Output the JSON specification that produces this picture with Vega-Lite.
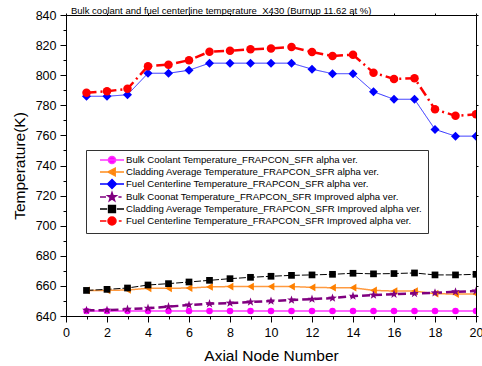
{
  "$schema": "https://vega.github.io/schema/vega-lite/v6.json",
  "width": 410,
  "height": 301,
  "autosize": {"type": "none"},
  "padding": {"left": 66, "top": 15, "right": 6, "bottom": 50},
  "background": "white",
  "config": {
    "view": {"stroke": "#000", "strokeWidth": 1},
    "font": "Liberation Sans",
    "axis": {"labelFont": "Liberation Sans", "titleFont": "Liberation Sans", "labelColor": "#000", "titleColor": "#000", "domainColor": "#000", "tickColor": "#000", "grid": false, "titleFontWeight": "normal", "labelFontSize": 12.5, "titleFontSize": 15.5},
    "legend": {"orient": "none", "legendX": 20, "legendY": 135, "title": null, "direction": "vertical", "strokeColor": "#333", "fillColor": "#fff", "padding": 5, "labelFontSize": 9.6, "labelFont": "Liberation Sans", "labelColor": "#000", "labelLimit": 0, "symbolSize": 64, "symbolStrokeWidth": 1.5, "symbolOffset": 16, "labelOffset": 9, "rowPadding": -3.6}
  },
  "title": {"text": "Bulk coolant and fuel centerline temperature_X430 (Burnup 11.62 at %)", "anchor": "start", "frame": "group", "orient": "top", "offset": -14, "dx": 5, "fontSize": 9.5, "fontWeight": "normal", "font": "Liberation Sans", "color": "#000", "baseline": "alphabetic"},
  "data": {"values": [
    {"n":1,"v":643.3,"s":"Bulk Coolant Temperature_FRAPCON_SFR alpha ver."},
    {"n":2,"v":643.3,"s":"Bulk Coolant Temperature_FRAPCON_SFR alpha ver."},
    {"n":3,"v":643.3,"s":"Bulk Coolant Temperature_FRAPCON_SFR alpha ver."},
    {"n":4,"v":643.3,"s":"Bulk Coolant Temperature_FRAPCON_SFR alpha ver."},
    {"n":5,"v":643.3,"s":"Bulk Coolant Temperature_FRAPCON_SFR alpha ver."},
    {"n":6,"v":643.3,"s":"Bulk Coolant Temperature_FRAPCON_SFR alpha ver."},
    {"n":7,"v":643.3,"s":"Bulk Coolant Temperature_FRAPCON_SFR alpha ver."},
    {"n":8,"v":643.3,"s":"Bulk Coolant Temperature_FRAPCON_SFR alpha ver."},
    {"n":9,"v":643.3,"s":"Bulk Coolant Temperature_FRAPCON_SFR alpha ver."},
    {"n":10,"v":643.3,"s":"Bulk Coolant Temperature_FRAPCON_SFR alpha ver."},
    {"n":11,"v":643.3,"s":"Bulk Coolant Temperature_FRAPCON_SFR alpha ver."},
    {"n":12,"v":643.3,"s":"Bulk Coolant Temperature_FRAPCON_SFR alpha ver."},
    {"n":13,"v":643.3,"s":"Bulk Coolant Temperature_FRAPCON_SFR alpha ver."},
    {"n":14,"v":643.3,"s":"Bulk Coolant Temperature_FRAPCON_SFR alpha ver."},
    {"n":15,"v":643.3,"s":"Bulk Coolant Temperature_FRAPCON_SFR alpha ver."},
    {"n":16,"v":643.3,"s":"Bulk Coolant Temperature_FRAPCON_SFR alpha ver."},
    {"n":17,"v":643.3,"s":"Bulk Coolant Temperature_FRAPCON_SFR alpha ver."},
    {"n":18,"v":643.3,"s":"Bulk Coolant Temperature_FRAPCON_SFR alpha ver."},
    {"n":19,"v":643.3,"s":"Bulk Coolant Temperature_FRAPCON_SFR alpha ver."},
    {"n":20,"v":643.3,"s":"Bulk Coolant Temperature_FRAPCON_SFR alpha ver."},
    {"n":1,"v":657,"s":"Cladding Average Temperature_FRAPCON_SFR alpha ver."},
    {"n":2,"v":657,"s":"Cladding Average Temperature_FRAPCON_SFR alpha ver."},
    {"n":3,"v":657.3,"s":"Cladding Average Temperature_FRAPCON_SFR alpha ver."},
    {"n":4,"v":658.4,"s":"Cladding Average Temperature_FRAPCON_SFR alpha ver."},
    {"n":5,"v":658.4,"s":"Cladding Average Temperature_FRAPCON_SFR alpha ver."},
    {"n":6,"v":658.6,"s":"Cladding Average Temperature_FRAPCON_SFR alpha ver."},
    {"n":7,"v":659.3,"s":"Cladding Average Temperature_FRAPCON_SFR alpha ver."},
    {"n":8,"v":659.6,"s":"Cladding Average Temperature_FRAPCON_SFR alpha ver."},
    {"n":9,"v":659.6,"s":"Cladding Average Temperature_FRAPCON_SFR alpha ver."},
    {"n":10,"v":659.6,"s":"Cladding Average Temperature_FRAPCON_SFR alpha ver."},
    {"n":11,"v":659.6,"s":"Cladding Average Temperature_FRAPCON_SFR alpha ver."},
    {"n":12,"v":659,"s":"Cladding Average Temperature_FRAPCON_SFR alpha ver."},
    {"n":13,"v":658.8,"s":"Cladding Average Temperature_FRAPCON_SFR alpha ver."},
    {"n":14,"v":658.8,"s":"Cladding Average Temperature_FRAPCON_SFR alpha ver."},
    {"n":15,"v":657,"s":"Cladding Average Temperature_FRAPCON_SFR alpha ver."},
    {"n":16,"v":656.6,"s":"Cladding Average Temperature_FRAPCON_SFR alpha ver."},
    {"n":17,"v":656.6,"s":"Cladding Average Temperature_FRAPCON_SFR alpha ver."},
    {"n":18,"v":654.8,"s":"Cladding Average Temperature_FRAPCON_SFR alpha ver."},
    {"n":19,"v":654.6,"s":"Cladding Average Temperature_FRAPCON_SFR alpha ver."},
    {"n":20,"v":654.6,"s":"Cladding Average Temperature_FRAPCON_SFR alpha ver."},
    {"n":1,"v":786,"s":"Fuel Centerline Temperature_FRAPCON_SFR alpha ver."},
    {"n":2,"v":786,"s":"Fuel Centerline Temperature_FRAPCON_SFR alpha ver."},
    {"n":3,"v":787,"s":"Fuel Centerline Temperature_FRAPCON_SFR alpha ver."},
    {"n":4,"v":801.3,"s":"Fuel Centerline Temperature_FRAPCON_SFR alpha ver."},
    {"n":5,"v":801.3,"s":"Fuel Centerline Temperature_FRAPCON_SFR alpha ver."},
    {"n":6,"v":803.3,"s":"Fuel Centerline Temperature_FRAPCON_SFR alpha ver."},
    {"n":7,"v":808,"s":"Fuel Centerline Temperature_FRAPCON_SFR alpha ver."},
    {"n":8,"v":808,"s":"Fuel Centerline Temperature_FRAPCON_SFR alpha ver."},
    {"n":9,"v":808,"s":"Fuel Centerline Temperature_FRAPCON_SFR alpha ver."},
    {"n":10,"v":808,"s":"Fuel Centerline Temperature_FRAPCON_SFR alpha ver."},
    {"n":11,"v":808,"s":"Fuel Centerline Temperature_FRAPCON_SFR alpha ver."},
    {"n":12,"v":804,"s":"Fuel Centerline Temperature_FRAPCON_SFR alpha ver."},
    {"n":13,"v":801,"s":"Fuel Centerline Temperature_FRAPCON_SFR alpha ver."},
    {"n":14,"v":801,"s":"Fuel Centerline Temperature_FRAPCON_SFR alpha ver."},
    {"n":15,"v":789,"s":"Fuel Centerline Temperature_FRAPCON_SFR alpha ver."},
    {"n":16,"v":784,"s":"Fuel Centerline Temperature_FRAPCON_SFR alpha ver."},
    {"n":17,"v":784,"s":"Fuel Centerline Temperature_FRAPCON_SFR alpha ver."},
    {"n":18,"v":764,"s":"Fuel Centerline Temperature_FRAPCON_SFR alpha ver."},
    {"n":19,"v":759.5,"s":"Fuel Centerline Temperature_FRAPCON_SFR alpha ver."},
    {"n":20,"v":759.5,"s":"Fuel Centerline Temperature_FRAPCON_SFR alpha ver."},
    {"n":1,"v":643.8,"s":"Bulk Coonat Temperature_FRAPCON_SFR Improved alpha ver."},
    {"n":2,"v":643.9,"s":"Bulk Coonat Temperature_FRAPCON_SFR Improved alpha ver."},
    {"n":3,"v":644.5,"s":"Bulk Coonat Temperature_FRAPCON_SFR Improved alpha ver."},
    {"n":4,"v":645.2,"s":"Bulk Coonat Temperature_FRAPCON_SFR Improved alpha ver."},
    {"n":5,"v":646.2,"s":"Bulk Coonat Temperature_FRAPCON_SFR Improved alpha ver."},
    {"n":6,"v":647.3,"s":"Bulk Coonat Temperature_FRAPCON_SFR Improved alpha ver."},
    {"n":7,"v":648.2,"s":"Bulk Coonat Temperature_FRAPCON_SFR Improved alpha ver."},
    {"n":8,"v":648.6,"s":"Bulk Coonat Temperature_FRAPCON_SFR Improved alpha ver."},
    {"n":9,"v":649.3,"s":"Bulk Coonat Temperature_FRAPCON_SFR Improved alpha ver."},
    {"n":10,"v":649.9,"s":"Bulk Coonat Temperature_FRAPCON_SFR Improved alpha ver."},
    {"n":11,"v":650.6,"s":"Bulk Coonat Temperature_FRAPCON_SFR Improved alpha ver."},
    {"n":12,"v":651.2,"s":"Bulk Coonat Temperature_FRAPCON_SFR Improved alpha ver."},
    {"n":13,"v":651.9,"s":"Bulk Coonat Temperature_FRAPCON_SFR Improved alpha ver."},
    {"n":14,"v":653.2,"s":"Bulk Coonat Temperature_FRAPCON_SFR Improved alpha ver."},
    {"n":15,"v":653.9,"s":"Bulk Coonat Temperature_FRAPCON_SFR Improved alpha ver."},
    {"n":16,"v":654.5,"s":"Bulk Coonat Temperature_FRAPCON_SFR Improved alpha ver."},
    {"n":17,"v":655,"s":"Bulk Coonat Temperature_FRAPCON_SFR Improved alpha ver."},
    {"n":18,"v":655.4,"s":"Bulk Coonat Temperature_FRAPCON_SFR Improved alpha ver."},
    {"n":19,"v":656.1,"s":"Bulk Coonat Temperature_FRAPCON_SFR Improved alpha ver."},
    {"n":20,"v":656.6,"s":"Bulk Coonat Temperature_FRAPCON_SFR Improved alpha ver."},
    {"n":1,"v":657,"s":"Cladding Average Temperature_FRAPCON_SFR Improved alpha ver."},
    {"n":2,"v":657.7,"s":"Cladding Average Temperature_FRAPCON_SFR Improved alpha ver."},
    {"n":3,"v":658.6,"s":"Cladding Average Temperature_FRAPCON_SFR Improved alpha ver."},
    {"n":4,"v":660.6,"s":"Cladding Average Temperature_FRAPCON_SFR Improved alpha ver."},
    {"n":5,"v":661.5,"s":"Cladding Average Temperature_FRAPCON_SFR Improved alpha ver."},
    {"n":6,"v":662.6,"s":"Cladding Average Temperature_FRAPCON_SFR Improved alpha ver."},
    {"n":7,"v":663.7,"s":"Cladding Average Temperature_FRAPCON_SFR Improved alpha ver."},
    {"n":8,"v":664.8,"s":"Cladding Average Temperature_FRAPCON_SFR Improved alpha ver."},
    {"n":9,"v":665.7,"s":"Cladding Average Temperature_FRAPCON_SFR Improved alpha ver."},
    {"n":10,"v":666.4,"s":"Cladding Average Temperature_FRAPCON_SFR Improved alpha ver."},
    {"n":11,"v":667,"s":"Cladding Average Temperature_FRAPCON_SFR Improved alpha ver."},
    {"n":12,"v":667.3,"s":"Cladding Average Temperature_FRAPCON_SFR Improved alpha ver."},
    {"n":13,"v":667.7,"s":"Cladding Average Temperature_FRAPCON_SFR Improved alpha ver."},
    {"n":14,"v":668.4,"s":"Cladding Average Temperature_FRAPCON_SFR Improved alpha ver."},
    {"n":15,"v":668,"s":"Cladding Average Temperature_FRAPCON_SFR Improved alpha ver."},
    {"n":16,"v":668.2,"s":"Cladding Average Temperature_FRAPCON_SFR Improved alpha ver."},
    {"n":17,"v":668.6,"s":"Cladding Average Temperature_FRAPCON_SFR Improved alpha ver."},
    {"n":18,"v":667.3,"s":"Cladding Average Temperature_FRAPCON_SFR Improved alpha ver."},
    {"n":19,"v":667.3,"s":"Cladding Average Temperature_FRAPCON_SFR Improved alpha ver."},
    {"n":20,"v":667.7,"s":"Cladding Average Temperature_FRAPCON_SFR Improved alpha ver."},
    {"n":1,"v":788.4,"s":"Fuel Centerline Temperature_FRAPCON_SFR Improved alpha ver."},
    {"n":2,"v":789.3,"s":"Fuel Centerline Temperature_FRAPCON_SFR Improved alpha ver."},
    {"n":3,"v":791,"s":"Fuel Centerline Temperature_FRAPCON_SFR Improved alpha ver."},
    {"n":4,"v":806,"s":"Fuel Centerline Temperature_FRAPCON_SFR Improved alpha ver."},
    {"n":5,"v":807,"s":"Fuel Centerline Temperature_FRAPCON_SFR Improved alpha ver."},
    {"n":6,"v":810,"s":"Fuel Centerline Temperature_FRAPCON_SFR Improved alpha ver."},
    {"n":7,"v":815.6,"s":"Fuel Centerline Temperature_FRAPCON_SFR Improved alpha ver."},
    {"n":8,"v":816.3,"s":"Fuel Centerline Temperature_FRAPCON_SFR Improved alpha ver."},
    {"n":9,"v":817.2,"s":"Fuel Centerline Temperature_FRAPCON_SFR Improved alpha ver."},
    {"n":10,"v":817.8,"s":"Fuel Centerline Temperature_FRAPCON_SFR Improved alpha ver."},
    {"n":11,"v":818.7,"s":"Fuel Centerline Temperature_FRAPCON_SFR Improved alpha ver."},
    {"n":12,"v":815.4,"s":"Fuel Centerline Temperature_FRAPCON_SFR Improved alpha ver."},
    {"n":13,"v":812.8,"s":"Fuel Centerline Temperature_FRAPCON_SFR Improved alpha ver."},
    {"n":14,"v":813.6,"s":"Fuel Centerline Temperature_FRAPCON_SFR Improved alpha ver."},
    {"n":15,"v":801.7,"s":"Fuel Centerline Temperature_FRAPCON_SFR Improved alpha ver."},
    {"n":16,"v":797.5,"s":"Fuel Centerline Temperature_FRAPCON_SFR Improved alpha ver."},
    {"n":17,"v":798,"s":"Fuel Centerline Temperature_FRAPCON_SFR Improved alpha ver."},
    {"n":18,"v":777.3,"s":"Fuel Centerline Temperature_FRAPCON_SFR Improved alpha ver."},
    {"n":19,"v":773,"s":"Fuel Centerline Temperature_FRAPCON_SFR Improved alpha ver."},
    {"n":20,"v":774,"s":"Fuel Centerline Temperature_FRAPCON_SFR Improved alpha ver."}
  ]},
  "layer": [
    {
      "mark": {"type": "line", "clip": true},
      "encoding": {
        "x": {"field": "n", "type": "quantitative", "scale": {"domain": [0, 20], "nice": false, "zero": false},
          "axis": {"orient": "bottom", "values": [0,2,4,6,8,10,12,14,16,18,20], "tickSize": 6, "labelPadding": 4, "title": "Axial Node Number", "titlePadding": 10, "labelFlush": false, "labelOverlap": false}},
        "y": {"field": "v", "type": "quantitative", "scale": {"domain": [640, 840], "nice": false, "zero": false},
          "axis": {"orient": "left", "values": [640,660,680,700,720,740,760,780,800,820,840], "tickSize": 6, "labelPadding": 4, "title": "Temperature(K)", "titlePadding": 8, "labelFlush": false, "labelOverlap": false}},
        "color": {"field": "s", "type": "nominal", "legend": null,
          "scale": {"domain": ["Bulk Coolant Temperature_FRAPCON_SFR alpha ver.", "Cladding Average Temperature_FRAPCON_SFR alpha ver.", "Fuel Centerline Temperature_FRAPCON_SFR alpha ver.", "Bulk Coonat Temperature_FRAPCON_SFR Improved alpha ver.", "Cladding Average Temperature_FRAPCON_SFR Improved alpha ver.", "Fuel Centerline Temperature_FRAPCON_SFR Improved alpha ver."],
            "range": ["#ff66ff", "#ff9a40", "#2a2aff", "#800080", "#000000", "#ff0000"]}},
        "strokeDash": {"field": "s", "type": "nominal", "legend": null,
          "scale": {"domain": ["Bulk Coolant Temperature_FRAPCON_SFR alpha ver.", "Cladding Average Temperature_FRAPCON_SFR alpha ver.", "Fuel Centerline Temperature_FRAPCON_SFR alpha ver.", "Bulk Coonat Temperature_FRAPCON_SFR Improved alpha ver.", "Cladding Average Temperature_FRAPCON_SFR Improved alpha ver.", "Fuel Centerline Temperature_FRAPCON_SFR Improved alpha ver."],
            "range": [[1, 0], [1, 0], [1, 0], [8, 4], [7, 2], [10, 4, 2, 4]]}},
        "strokeWidth": {"condition": [
          {"test": "datum.s === 'Bulk Coolant Temperature_FRAPCON_SFR alpha ver.'", "value": 2},
          {"test": "datum.s === 'Cladding Average Temperature_FRAPCON_SFR alpha ver.'", "value": 1.5},
          {"test": "datum.s === 'Bulk Coonat Temperature_FRAPCON_SFR Improved alpha ver.'", "value": 2.5},
          {"test": "datum.s === 'Fuel Centerline Temperature_FRAPCON_SFR Improved alpha ver.'", "value": 2.5}
        ], "value": 1}
      }
    },
    {
      "mark": {"type": "point", "filled": true, "opacity": 1, "clip": true},
      "encoding": {
        "x": {"field": "n", "type": "quantitative",
          "axis": {"orient": "bottom", "values": [1,3,5,7,9,11,13,15,17,19], "tickSize": 3, "labels": false, "domain": false, "title": null}},
        "y": {"field": "v", "type": "quantitative",
          "axis": {"orient": "left", "values": [650,670,690,710,730,750,770,790,810,830], "tickSize": 3, "labels": false, "domain": false, "title": null}},
        "color": {"field": "s", "type": "nominal", "legend": null,
          "scale": {"domain": ["Bulk Coolant Temperature_FRAPCON_SFR alpha ver.", "Cladding Average Temperature_FRAPCON_SFR alpha ver.", "Fuel Centerline Temperature_FRAPCON_SFR alpha ver.", "Bulk Coonat Temperature_FRAPCON_SFR Improved alpha ver.", "Cladding Average Temperature_FRAPCON_SFR Improved alpha ver.", "Fuel Centerline Temperature_FRAPCON_SFR Improved alpha ver."],
            "range": ["#ff00ff", "#ff8000", "#0000ff", "#800080", "#000000", "#ff0000"]}},
        "shape": {"field": "s", "type": "nominal", "legend": null,
          "scale": {"domain": ["Bulk Coolant Temperature_FRAPCON_SFR alpha ver.", "Cladding Average Temperature_FRAPCON_SFR alpha ver.", "Fuel Centerline Temperature_FRAPCON_SFR alpha ver.", "Bulk Coonat Temperature_FRAPCON_SFR Improved alpha ver.", "Cladding Average Temperature_FRAPCON_SFR Improved alpha ver.", "Fuel Centerline Temperature_FRAPCON_SFR Improved alpha ver."],
            "range": ["circle", "triangle-left", "diamond", "M0,-1L0.235,-0.324L0.951,-0.309L0.38,0.124L0.588,0.809L0,0.4L-0.588,0.809L-0.38,0.124L-0.951,-0.309L-0.235,-0.324Z", "square", "circle"]}},
        "size": {"condition": [
          {"test": "datum.s === 'Bulk Coolant Temperature_FRAPCON_SFR alpha ver.'", "value": 42},
          {"test": "datum.s === 'Cladding Average Temperature_FRAPCON_SFR alpha ver.'", "value": 60},
          {"test": "datum.s === 'Fuel Centerline Temperature_FRAPCON_SFR alpha ver.'", "value": 81},
          {"test": "datum.s === 'Bulk Coonat Temperature_FRAPCON_SFR Improved alpha ver.'", "value": 85},
          {"test": "datum.s === 'Cladding Average Temperature_FRAPCON_SFR Improved alpha ver.'", "value": 45}
        ], "value": 72}
      }
    },
    {
      "transform": [{"filter": "datum.n < 0"}],
      "mark": {"type": "point", "filled": false, "opacity": 1, "strokeWidth": 1.5},
      "encoding": {
        "x": {"field": "n", "type": "quantitative",
          "axis": {"orient": "top", "values": [0,2,4,6,8,10,12,14,16,18,20], "tickSize": 2, "labels": false, "domain": false, "title": null}},
        "y": {"field": "v", "type": "quantitative",
          "axis": {"orient": "right", "values": [640,660,680,700,720,740,760,780,800,820,840], "tickSize": 2, "labels": false, "domain": false, "title": null}},
        "shape": {"field": "s", "type": "nominal",
          "scale": {"domain": ["Bulk Coolant Temperature_FRAPCON_SFR alpha ver.", "Cladding Average Temperature_FRAPCON_SFR alpha ver.", "Fuel Centerline Temperature_FRAPCON_SFR alpha ver.", "Bulk Coonat Temperature_FRAPCON_SFR Improved alpha ver.", "Cladding Average Temperature_FRAPCON_SFR Improved alpha ver.", "Fuel Centerline Temperature_FRAPCON_SFR Improved alpha ver."],
            "range": [
              "M-3,0H3M0.9,0A0.9,0.9,0,1,1,-0.9,0A0.9,0.9,0,1,1,0.9,0Z",
              "M-3,0H3M-1,0L0.8,-0.95L0.8,0.95Z",
              "M-3,0H3M0,-1.1L1.1,0L0,1.1L-1.1,0Z",
              "M-3,0H-1.5M1.6,0H2.4M0,-1.1L0.26,-0.36L1.05,-0.34L0.42,0.14L0.65,0.89L0,0.44L-0.65,0.89L-0.42,0.14L-1.05,-0.34L-0.26,-0.36Z",
              "M-3,0H-1.2M1.2,0H3M-0.85,-0.85H0.85V0.85H-0.85Z",
              "M-3,0H-1.4M1.7,0H2.4M1,0A1,1,0,1,1,-1,0A1,1,0,1,1,1,0Z"
            ]}},
        "fill": {"field": "s", "type": "nominal",
          "scale": {"domain": ["Bulk Coolant Temperature_FRAPCON_SFR alpha ver.", "Cladding Average Temperature_FRAPCON_SFR alpha ver.", "Fuel Centerline Temperature_FRAPCON_SFR alpha ver.", "Bulk Coonat Temperature_FRAPCON_SFR Improved alpha ver.", "Cladding Average Temperature_FRAPCON_SFR Improved alpha ver.", "Fuel Centerline Temperature_FRAPCON_SFR Improved alpha ver."],
            "range": ["#ff00ff", "#ff8000", "#0000ff", "#800080", "#000000", "#ff0000"]}},
        "stroke": {"field": "s", "type": "nominal",
          "scale": {"domain": ["Bulk Coolant Temperature_FRAPCON_SFR alpha ver.", "Cladding Average Temperature_FRAPCON_SFR alpha ver.", "Fuel Centerline Temperature_FRAPCON_SFR alpha ver.", "Bulk Coonat Temperature_FRAPCON_SFR Improved alpha ver.", "Cladding Average Temperature_FRAPCON_SFR Improved alpha ver.", "Fuel Centerline Temperature_FRAPCON_SFR Improved alpha ver."],
            "range": ["#ff33ff", "#ff8c1a", "#0000ff", "#800080", "#000000", "#ff0000"]}}
      }
    }
  ],
  "resolve": {"scale": {"color": "independent", "shape": "independent", "fill": "independent", "stroke": "independent"}, "axis": {"x": "independent", "y": "independent"}}
}
